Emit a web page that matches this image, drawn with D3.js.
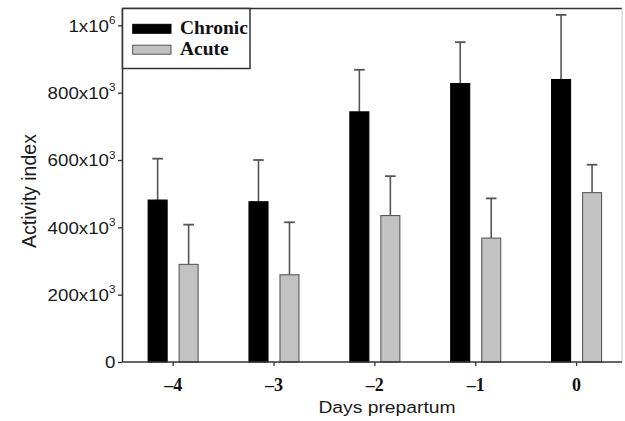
<!DOCTYPE html>
<html>
<head>
<meta charset="utf-8">
<script src="https://cdn.jsdelivr.net/npm/d3@7"></script>
<style>
  html, body { margin: 0; padding: 0; background: #fff; }
  svg { display: block; }
</style>
</head>
<body>
<svg id="chart" width="625" height="421"></svg>
<script>
// ---- data (values in activity-index units) ----
const days = ["–4", "–3", "–2", "–1", "0"];
const seriesNames = ["Chronic", "Acute"];
const chronicMean = [481000, 476000, 743000, 827000, 839000];
const chronicSE   = [123000, 124000, 125000, 123000, 192000];
const acuteMean   = [290000, 259000, 435000, 368000, 503000];
const acuteSE     = [118000, 156000, 117000, 118000, 83000];
const yTicks = [0, 200000, 400000, 600000, 800000, 1000000];
const yTickBase = ["0", "200x10", "400x10", "600x10", "800x10", "1x10"];
const yTickSup  = ["", "3", "3", "3", "3", "6"];

(function () {
const svg = d3.select("#chart");
const pLeft = 122.5, pRight = 622, pTop = 8.5, pBottom = 362;

const y = d3.scaleLinear().domain([0, 1050000]).range([pBottom, pTop]);
const x0 = d3.scaleBand().domain(days).range([122.7, 627]).padding(0);
const x1 = d3.scaleBand().domain(seriesNames).range([0, 50]).paddingInner(0.387).paddingOuter(0);
const innerOff = (x0.bandwidth() - 50) / 2;

const fills = { Chronic: "#000000", Acute: "#c2c2c2" };
const strokes = { Chronic: "#000000", Acute: "#5a5a5a" };

const data = days.map((d, i) => ({
  day: d,
  values: [
    { key: "Chronic", mean: chronicMean[i], se: chronicSE[i] },
    { key: "Acute", mean: acuteMean[i], se: acuteSE[i] }
  ]
}));

// frame
svg.append("line").attr("x1", pLeft).attr("x2", pRight).attr("y1", pTop).attr("y2", pTop)
  .attr("stroke", "#333").attr("stroke-width", 1.5);
svg.append("line").attr("x1", pRight).attr("x2", pRight).attr("y1", pTop).attr("y2", pBottom)
  .attr("stroke", "#ccc").attr("stroke-width", 1);

const groups = svg.append("g").selectAll("g").data(data).join("g")
  .attr("transform", d => `translate(${x0(d.day) + innerOff},0)`);

// error bars (upward only)
groups.selectAll("g.err").data(d => d.values).join("g").attr("class", "err")
  .each(function(v) {
    const g = d3.select(this);
    const cx = x1(v.key) + x1.bandwidth() / 2;
    g.append("line").attr("x1", cx).attr("x2", cx)
      .attr("y1", y(v.mean)).attr("y2", y(v.mean + v.se))
      .attr("stroke", "#555").attr("stroke-width", 1.6);
    g.append("line").attr("x1", cx - 5.3).attr("x2", cx + 5.3)
      .attr("y1", y(v.mean + v.se)).attr("y2", y(v.mean + v.se))
      .attr("stroke", "#555").attr("stroke-width", 1.8);
  });

// bars
groups.selectAll("rect").data(d => d.values).join("rect")
  .attr("x", v => x1(v.key))
  .attr("y", v => y(v.mean))
  .attr("width", x1.bandwidth())
  .attr("height", v => y(0) - y(v.mean))
  .attr("fill", v => fills[v.key])
  .attr("stroke", v => strokes[v.key])
  .attr("stroke-width", 1.1);

// y axis
const yAxis = svg.append("g").attr("transform", `translate(${pLeft},0)`)
  .call(d3.axisLeft(y).tickValues(yTicks).tickSize(4.5).tickFormat(""));
yAxis.select(".domain").attr("stroke", "#333").attr("stroke-width", 1.5)
  .attr("d", `M0,${pTop}V${pBottom}`);
yAxis.selectAll(".tick line").attr("stroke", "#333").attr("stroke-width", 1.3);

const yl = svg.append("g").selectAll("text").data(yTicks).join("text")
  .attr("transform", d => `translate(115.5,${y(d) + 6.2}) scale(1.17,1)`)
  .attr("text-anchor", "end")
  .attr("font-family", "Liberation Sans, Arial, sans-serif")
  .attr("font-size", 16)
  .attr("fill", "#1a1a1a");
yl.each(function(d, i) {
  const t = d3.select(this);
  t.append("tspan").text(yTickBase[i]);
  if (yTickSup[i]) t.append("tspan").attr("dy", -7.5).attr("font-size", 10).text(yTickSup[i]);
});

// x axis
const xAxis = svg.append("g").attr("transform", `translate(0,${pBottom})`)
  .call(d3.axisBottom(x0).tickSize(4).tickFormat(""));
xAxis.select(".domain").attr("stroke", "#333").attr("stroke-width", 1.5)
  .attr("d", `M${pLeft},0H${pRight}`);
xAxis.selectAll(".tick line").attr("stroke", "#333").attr("stroke-width", 1.3);
svg.append("g").selectAll("text").data(days).join("text")
  .attr("x", d => x0(d) + x0.bandwidth() / 2)
  .attr("y", 391)
  .attr("text-anchor", "middle")
  .attr("font-family", "Liberation Serif, Times New Roman, serif")
  .attr("font-weight", "bold")
  .attr("font-size", 18)
  .attr("fill", "#111")
  .text(d => d);

// axis titles
svg.append("text")
  .attr("transform", "translate(387,413) scale(1.17,1)")
  .attr("text-anchor", "middle")
  .attr("font-family", "Liberation Sans, Arial, sans-serif")
  .attr("font-size", 16.5)
  .attr("fill", "#1a1a1a")
  .text("Days prepartum");
svg.append("text")
  .attr("transform", "translate(35.5,191) rotate(-90)")
  .attr("text-anchor", "middle")
  .attr("font-family", "Liberation Sans, Arial, sans-serif")
  .attr("font-size", 19.5)
  .attr("fill", "#1a1a1a")
  .text("Activity index");

// legend
const lg = svg.append("g");
lg.append("rect").attr("x", pLeft).attr("y", pTop).attr("width", 250 - pLeft).attr("height", 68.5 - pTop)
  .attr("fill", "#fff").attr("stroke", "#333").attr("stroke-width", 1.5);
seriesNames.forEach((s, i) => {
  const yy = [24.3, 45.2][i];
  lg.append("rect").attr("x", 132.7).attr("y", yy).attr("width", 38.3).attr("height", 9)
    .attr("fill", fills[s]).attr("stroke", s === "Acute" ? "#555" : "#000").attr("stroke-width", 1);
  lg.append("text").attr("x", 180).attr("y", [34, 55.3][i])
    .attr("font-family", "Liberation Serif, Times New Roman, serif")
    .attr("font-weight", "bold")
    .attr("font-size", 19.5)
    .attr("fill", "#111")
    .text(s);
});
})();
</script>
</body>
</html>
